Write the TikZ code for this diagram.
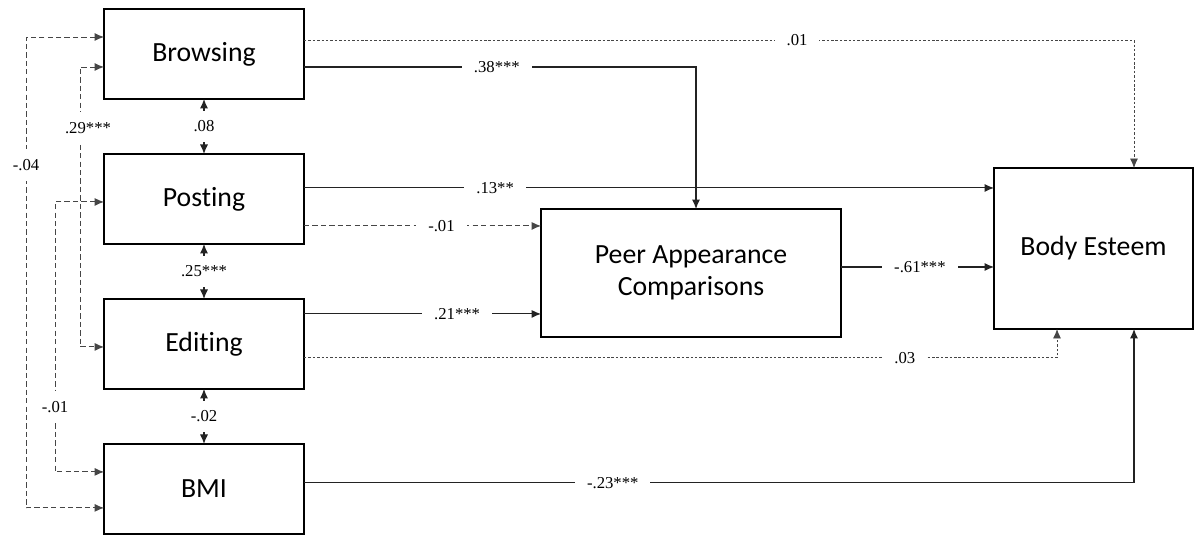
\documentclass[tikz,border=0pt]{standalone}
\usepackage{fontspec}
\setmainfont{Liberation Serif}
\newfontfamily\boxfont[Ligatures=NoCommon]{Carlito}
\usepackage{tikz}
\usetikzlibrary{arrows.meta, positioning}
\definecolor{linegrey}{RGB}{35, 35, 35}
\definecolor{dashgrey}{RGB}{70, 70, 70}

\begin{document}
\begin{tikzpicture}[
    x=0.02cm, y=-0.02cm,
    node distance=1.1cm,
    >={Latex[length=5.4pt, width=4.6pt]},
    block/.style={rectangle, draw=black, line width=0.85pt, fill=white, align=center, minimum width=4cm, minimum height=1.8cm, inner sep=0pt, outer sep=0pt, font=\boxfont\fontsize{15.8}{18.2}\selectfont},
    coef/.style={fill=white, inner xsep=0.24cm, inner ysep=0.2cm, font=\fontsize{9.5}{11}\selectfont},
    solidline/.style={draw=linegrey, line width=0.6pt},
    dashline/.style={draw=dashgrey, line width=0.55pt, dash pattern=on 3pt off 1.8pt},
    dotline/.style={draw=dashgrey, line width=0.5pt, dash pattern=on 1.4pt off 1.1pt}
]
\useasboundingbox (0,0) rectangle (1194,536);

\node [block] (brows) at (204,54) {Browsing};
\node [block, below=of brows] (post) {Posting};
\node [block, below=of post] (edit) {Editing};
\node [block, below=of edit] (bmi) {BMI};
\node [block, minimum width=6cm, minimum height=2.56cm] (peer) at (691,273) {Peer Appearance\\Comparisons};
\node [block, minimum width=3.98cm, minimum height=3.22cm] (body) at (1093.5,248.5) {Body Esteem};

\path [dotline, ->] ([yshift=0.28cm]brows.east) -| node[coef, pos=0.297]{.01} ([xshift=0.81cm]body.north);
\path [solidline, ->] ([yshift=-0.26cm]brows.east) -| node[coef, pos=0.246]{.38***} ([xshift=0.1cm]peer.north);
\path [solidline, ->] ([yshift=0.22cm]post.east) -- node[coef, pos=0.277]{.13**} ([yshift=0.22cm]post.east -| body.west);
\path [dashline, ->] ([yshift=-0.54cm]post.east) -- node[coef, pos=0.58]{-.01} ([yshift=-0.54cm]post.east -| peer.west);
\path [solidline, ->] ([yshift=0.6cm]edit.east) -- node[coef, pos=0.646]{.21***} ([yshift=0.6cm]edit.east -| peer.west);
\path [dotline, ->] ([yshift=-0.28cm]edit.east) -| node[coef, pos=0.399]{.03} ([xshift=-0.73cm]body.south);
\path [solidline, ->] ([yshift=0.12cm]bmi.east) -| node[coef, pos=0.186]{-.23***} ([xshift=0.81cm]body.south);
\path [solidline, ->] ([yshift=0.12cm]peer.east) -- node[coef, pos=0.516]{-.61***} ([yshift=0.12cm]peer.east -| body.west);

\path [solidline, <->] (brows) -- node[coef]{.08} (post);
\path [solidline, <->] (post) -- node[coef]{.25***} (edit);
\path [solidline, <->] (edit) -- node[coef]{-.02} (bmi);

\path [dashline, <->] ([yshift=0.34cm]brows.west) -- ++(-78,0) |- node[coef, pos=0.136]{-.04} ([yshift=-0.38cm]bmi.west);
\path [dashline, <->] ([yshift=-0.26cm]brows.west) -- ++(-24,0) |- node[coef, pos=0.109, xshift=0.16cm]{.29***} ([yshift=-0.06cm]edit.west);
\path [dashline, <->] ([yshift=-0.06cm]post.west) -- ++(-49,0) |- node[coef, pos=0.38]{-.01} ([yshift=0.34cm]bmi.west);

\end{tikzpicture}
\end{document}
